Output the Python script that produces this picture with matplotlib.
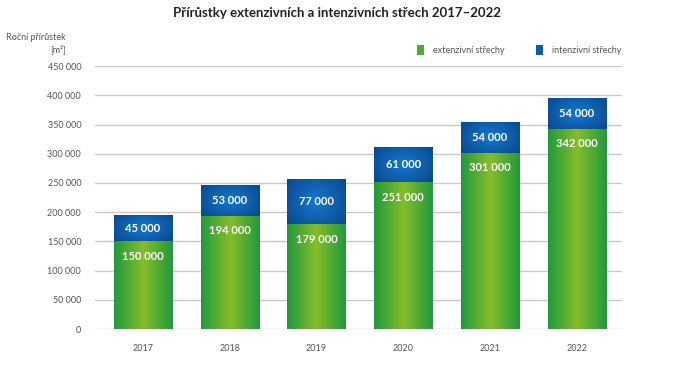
import numpy as np
import matplotlib
matplotlib.use("Agg")
import matplotlib.pyplot as plt
from matplotlib.colors import LinearSegmentedColormap
from matplotlib.patches import Rectangle

years = ["2017", "2018", "2019", "2020", "2021", "2022"]
extenzivni = [150000, 194000, 179000, 251000, 301000, 342000]
intenzivni = [45000, 53000, 77000, 61000, 54000, 54000]
yticks = [0, 50000, 100000, 150000, 200000, 250000, 300000, 350000, 400000, 450000]

def fmt(v):
    return f"{v:,}".replace(",", " ")

plt.rcParams['font.family'] = ['Lato', 'DejaVu Sans']

fig = plt.figure(figsize=(6.74, 3.80), dpi=100)
ax = fig.add_axes([0.141, 0.134, 0.782, 0.692])

x = np.arange(len(years))
w = 0.67
b1 = ax.bar(x, extenzivni, w, color='#5cb030', zorder=2)
b2 = ax.bar(x, intenzivni, w, bottom=extenzivni, color='#0d5aa8', zorder=2)

green_cmap = LinearSegmentedColormap.from_list('g', ['#1f9a3c', '#86bd2a', '#1f9a3c'])
blue_cmap = LinearSegmentedColormap.from_list('b', ['#0b4a92', '#1479cf', '#0b4a92'])

grad_h = np.linspace(0, 1, 256)[None, :]
for bars, cmap in ((b1, green_cmap), (b2, blue_cmap)):
    for p in bars:
        px, py = p.get_x(), p.get_y()
        pw, ph = p.get_width(), p.get_height()
        if cmap is blue_cmap:
            yy = np.linspace(0, 1, 64)[:, None]
            xx = np.linspace(0, 1, 256)[None, :]
            r = np.sqrt(((xx - 0.5) * 1.0) ** 2 + ((yy - 0.5) * 0.8) ** 2)
            arr = 0.5 + np.clip(r / 0.6, 0, 1) * 0.5
            arr = np.where(xx < 0.5, 1 - arr, arr)
            data = arr
        else:
            data = np.repeat(grad_h, 64, axis=0)
        im = ax.imshow(data, cmap=cmap, vmin=0, vmax=1, aspect='auto',
                       extent=[px, px + pw, py, py + ph], origin='lower',
                       zorder=2.5, interpolation='bilinear')
        im.set_clip_path(p)

for xi, e, i in zip(x, extenzivni, intenzivni):
    ax.text(xi, e - 25000, fmt(e), ha='center', va='center', color='white',
            fontsize=8, fontweight='bold', zorder=4)
    ax.text(xi, e + i / 2, fmt(i), ha='center', va='center', color='white',
            fontsize=8, fontweight='bold', zorder=4)

ax.set_xlim(-0.55, 5.52)
ax.set_ylim(0, 450000)
ax.set_yticks(yticks)
ax.set_yticklabels([fmt(v) for v in yticks])
ax.set_xticks(x)
ax.set_xticklabels(years)
ax.tick_params(axis='both', length=0, labelsize=6.5, colors='#555555')
ax.tick_params(axis='y', pad=10)
ax.tick_params(axis='x', pad=11)
ax.grid(axis='y', color='#c8c8c8', lw=1, zorder=0)
for s in ax.spines.values():
    s.set_visible(False)

fig.text(0.5, 0.965, "Přírůstky extenzivních a intenzivních střech 2017–2022",
         ha='center', va='center', fontsize=9.5, fontweight='bold', color='#222222')
fig.text(0.098, 0.886, "Roční přírůstek\n[m²]", ha='right', va='center',
         fontsize=6.5, color='#555555', linespacing=1.3)

# legend
fig.patches.append(Rectangle((0.619, 0.855), 0.0105, 0.026, transform=fig.transFigure,
                             facecolor='#4fae32', edgecolor='none'))
fig.text(0.643, 0.868, "extenzivní střechy", ha='left', va='center', fontsize=6.5, color='#555555')
fig.patches.append(Rectangle((0.795, 0.855), 0.0105, 0.026, transform=fig.transFigure,
                             facecolor='#0d5aa8', edgecolor='none'))
fig.text(0.819, 0.868, "intenzivní střechy", ha='left', va='center', fontsize=6.5, color='#555555')

fig.savefig("out.png", dpi=100)
